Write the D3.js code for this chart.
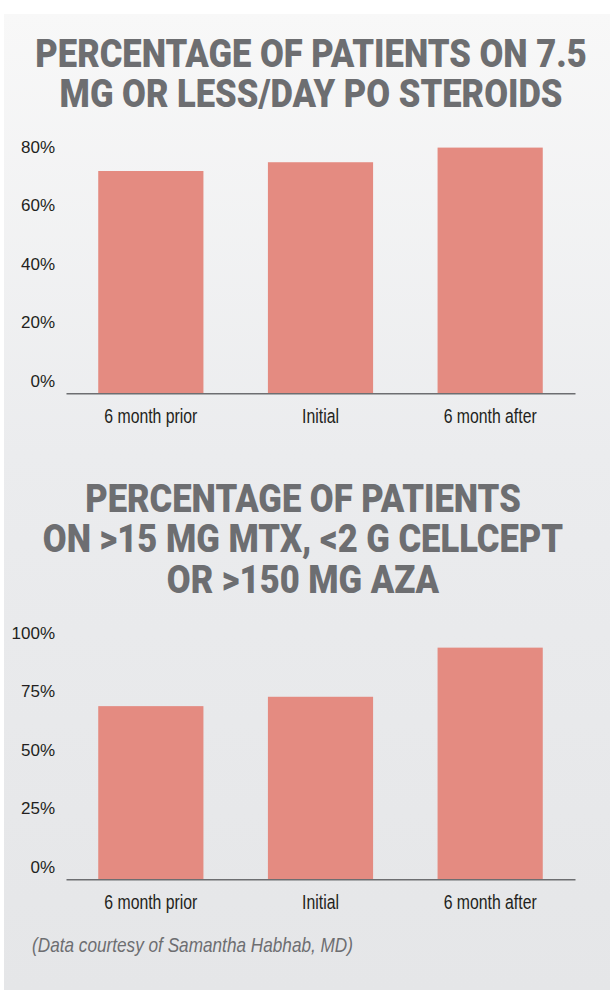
<!DOCTYPE html>
<html>
<head>
<meta charset="utf-8">
<script src="https://cdn.jsdelivr.net/npm/d3@7"></script>
<style>
  html, body { margin: 0; padding: 0; background: #ffffff; }
  svg { display: block; }
</style>
</head>
<body>
<script>
// ---- data ----
const categories = ["6 month prior", "Initial", "6 month after"];
const steroidValues = [76, 79, 84];
const immunoValues = [74, 78, 99];
const steroidTicks = [0, 20, 40, 60, 80];
const immunoTicks = [0, 25, 50, 75, 100];
const titleTop = ["PERCENTAGE OF PATIENTS ON 7.5", "MG OR LESS/DAY PO STEROIDS"];
const titleBottom = ["PERCENTAGE OF PATIENTS", "ON >15 MG MTX, <2 G CELLCEPT", "OR >150 MG AZA"];
const sourceNote = "(Data courtesy of Samantha Habhab, MD)";

// ---- layout ----
const W = 612, H = 990;
const grey = "#6d6e71";
const barColor = "#e48b81";
const titleFont = "Roboto, 'DejaVu Sans', sans-serif";
const labelFont = "'Liberation Sans', Arial, sans-serif";

const svg = d3.select("body").append("svg").attr("width", W).attr("height", H);
const defs = svg.append("defs");
const grad = defs.append("linearGradient").attr("id", "bg").attr("x1", 0).attr("y1", 0).attr("x2", 0).attr("y2", 1);
grad.append("stop").attr("offset", "0%").attr("stop-color", "#f8f8f8");
grad.append("stop").attr("offset", "45%").attr("stop-color", "#ebecee");
grad.append("stop").attr("offset", "100%").attr("stop-color", "#e5e6e8");
svg.append("rect").attr("x", 4).attr("y", 14).attr("width", 606).attr("height", H - 14).attr("fill", "url(#bg)");

function drawTitle(lines, cx, firstBaseline) {
  const t = svg.append("text")
    .attr("transform", `translate(${cx},${firstBaseline}) scale(0.875,1)`)
    .attr("text-anchor", "middle")
    .attr("font-family", titleFont)
    .attr("font-weight", 900)
    .attr("font-size", 39.5)
    .attr("fill", grey);
  t.selectAll("tspan").data(lines).join("tspan")
    .attr("x", 0)
    .attr("y", (d, i) => i * 40.8)
    .text(d => d);
}

function drawChart(values, ticks, yBase, yTop) {
  const x = d3.scaleBand().domain(categories).range([66, 575]).paddingInner(0.38).paddingOuter(0.19);
  const y = d3.scaleLinear().domain([ticks[0], ticks[ticks.length - 1]]).range([yBase, yTop]);
  const g = svg.append("g");

  g.selectAll("rect.bar").data(values).join("rect")
    .attr("class", "bar")
    .attr("x", (d, i) => x(categories[i]))
    .attr("width", x.bandwidth())
    .attr("y", d => y(d))
    .attr("height", d => y(0) - y(d))
    .attr("fill", barColor);

  const ya = g.append("g").attr("transform", "translate(66,0)")
    .call(d3.axisLeft(y).tickValues(ticks).tickSize(0).tickPadding(11).tickFormat(d => d + "%"));
  ya.select(".domain").remove();
  ya.selectAll("text")
    .attr("y", -13).attr("dy", "0.36em")
    .attr("font-family", labelFont).attr("font-size", 17).attr("fill", "#231f20");

  const xa = g.append("g").attr("transform", `translate(0,${yBase})`)
    .call(d3.axisBottom(x).tickSize(0).tickSizeOuter(0));
  xa.select(".domain").attr("stroke", grey).attr("stroke-width", 1.6);
  xa.selectAll(".tick text")
    .attr("y", 29.4).attr("dy", 0)
    .attr("transform", "scale(0.81,1)")
    .attr("font-family", labelFont).attr("font-size", 19.5).attr("fill", "#231f20");
}

drawTitle(titleTop, 311, 66.7);
drawChart(steroidValues, steroidTicks, 393.3, 159.3);
drawTitle(titleBottom, 303, 511.7);
drawChart(immunoValues, immunoTicks, 879.3, 645.3);

svg.append("text")
  .attr("transform", "translate(32,952) scale(0.86,1)")
  .attr("font-family", labelFont).attr("font-style", "italic")
  .attr("font-size", 20).attr("fill", grey)
  .text(sourceNote);
</script>
</body>
</html>
